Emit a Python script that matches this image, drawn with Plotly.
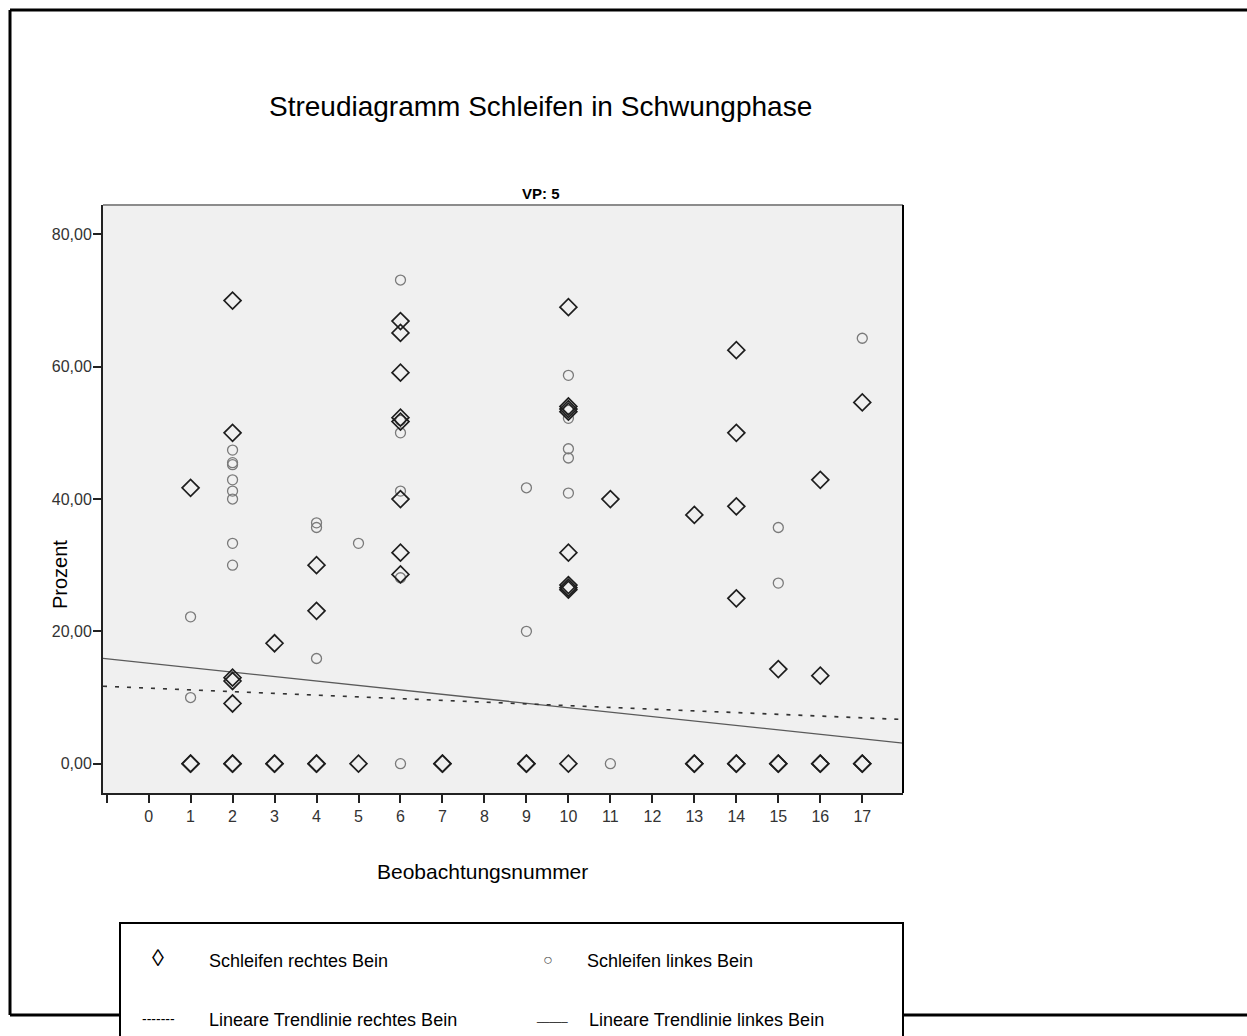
import plotly.graph_objects as go

# Beobachtungsnummer / Prozent – rechtes Bein (Rauten)
right_x = [1, 1, 1,
           2, 2, 2, 2, 2, 2, 2,
           3, 3, 3,
           4, 4, 4, 4,
           5,
           6, 6, 6, 6, 6, 6, 6, 6,
           7, 7,
           9, 9,
           10, 10, 10, 10, 10, 10, 10, 10, 10,
           11,
           13, 13, 13,
           14, 14, 14, 14, 14, 14,
           15, 15, 15,
           16, 16, 16, 16,
           17, 17, 17]
right_y = [41.7, 0, 0,
           70.0, 50.0, 13.0, 12.5, 9.1, 0, 0,
           18.2, 0, 0,
           30.0, 23.1, 0, 0,
           0,
           66.9, 65.1, 59.1, 52.3, 51.7, 40.0, 31.9, 28.6,
           0, 0,
           0, 0,
           69.0, 54.0, 53.6, 53.2, 31.9, 27.0, 26.6, 26.3, 0,
           40.0,
           37.6, 0, 0,
           62.5, 50.0, 38.9, 25.0, 0, 0,
           14.3, 0, 0,
           42.9, 13.3, 0, 0,
           54.6, 0, 0]

# Beobachtungsnummer / Prozent – linkes Bein (Kreise)
left_x = [1, 1,
          2, 2, 2, 2, 2, 2, 2, 2,
          4, 4, 4,
          5,
          6, 6, 6, 6, 6, 6,
          9, 9,
          10, 10, 10, 10, 10, 10,
          11,
          15, 15,
          17]
left_y = [22.2, 10.0,
          47.4, 45.5, 45.2, 42.9, 41.2, 40.0, 33.3, 30.0,
          36.4, 35.7, 15.9,
          33.3,
          73.1, 51.9, 50.0, 41.2, 28.1, 0,
          41.7, 20.0,
          58.7, 53.4, 52.2, 47.6, 46.2, 40.9,
          0,
          35.7, 27.3,
          64.3]

# Lineare Trendlinien: [Achsenabschnitt, Steigung]
trend_right = [11.42, -0.264]
trend_left = [15.18, -0.672]

x_range = [-1.086, 17.97]
y_range = [-4.43, 84.44]
x_tick_vals = list(range(-1, 18))
x_tick_text = [""] + [str(i) for i in range(0, 18)]
y_tick_vals = [0, 20, 40, 60, 80]

FONT = "Liberation Sans, Arial, sans-serif"
W, H = 1247, 1036
PL, PR, PT, PB = 103, 903, 205, 793  # plot area in pixels


def px(x):
    return (x - PL) / (PR - PL)


def py(y):
    return (PB - y) / (PB - PT)


def trend(coef):
    return [coef[0] + coef[1] * x for x in x_range]


fig = go.Figure()

fig.add_trace(go.Scatter(
    x=x_range, y=trend(trend_left), mode="lines",
    line=dict(color="#5a5a5a", width=1.3), hoverinfo="skip"))
fig.add_trace(go.Scatter(
    x=x_range, y=trend(trend_right), mode="lines",
    line=dict(color="#333333", width=1.6, dash="4px,8px"), hoverinfo="skip"))

fig.add_trace(go.Scatter(
    x=left_x, y=left_y, mode="markers", name="Schleifen linkes Bein",
    marker=dict(symbol="circle-open", size=10, color="#7a7a7a",
                line=dict(width=1.3, color="#7a7a7a"))))
fig.add_trace(go.Scatter(
    x=right_x, y=right_y, mode="markers", name="Schleifen rechtes Bein",
    marker=dict(symbol="diamond-open", size=13, color="#1e1e1e",
                line=dict(width=1.7, color="#1e1e1e"))))

shapes = []
# plot frame: top in grey, right in black
shapes.append(dict(type="line", xref="paper", yref="paper", x0=0, x1=1, y0=1, y1=1,
                   line=dict(color="#8c8c8c", width=2)))
shapes.append(dict(type="line", xref="paper", yref="paper", x0=1, x1=1, y0=0, y1=1,
                   line=dict(color="#000000", width=2)))
# outer frame
frame = dict(color="#000000", width=3)
shapes.append(dict(type="line", xref="paper", yref="paper",
                   x0=px(10), x1=px(10), y0=py(10), y1=py(1015), line=frame))
shapes.append(dict(type="line", xref="paper", yref="paper",
                   x0=px(10), x1=px(1260), y0=py(10), y1=py(10), line=frame))
shapes.append(dict(type="line", xref="paper", yref="paper",
                   x0=px(10), x1=px(120), y0=py(1015), y1=py(1015), line=frame))
shapes.append(dict(type="line", xref="paper", yref="paper",
                   x0=px(903), x1=px(1260), y0=py(1015), y1=py(1015), line=frame))
# legend box
shapes.append(dict(type="rect", xref="paper", yref="paper",
                   x0=px(120), x1=px(903), y0=py(923), y1=py(1050),
                   line=dict(color="#000000", width=2), fillcolor="rgba(0,0,0,0)"))

annotations = [
    dict(text="Streudiagramm Schleifen in Schwungphase", x=px(540), y=py(107),
         font=dict(family=FONT, size=28, color="#000000")),
    dict(text="<b>VP: 5</b>", x=px(541), y=py(193),
         font=dict(family=FONT, size=15, color="#000000")),
    dict(text="Prozent", x=px(60), y=py(575), textangle=-90,
         font=dict(family=FONT, size=20, color="#000000")),
    dict(text="Beobachtungsnummer", x=px(482), y=py(871),
         font=dict(family=FONT, size=21, color="#000000")),
    # legend entries
    dict(text="◊", x=px(158), y=py(957), font=dict(family=FONT, size=24, color="#000000")),
    dict(text="Schleifen rechtes Bein", x=px(207), y=py(961), xanchor="left",
         font=dict(family=FONT, size=18, color="#000000")),
    dict(text="○", x=px(548), y=py(959), font=dict(family=FONT, size=16, color="#555555")),
    dict(text="Schleifen linkes Bein", x=px(585), y=py(961), xanchor="left",
         font=dict(family=FONT, size=18, color="#000000")),
    dict(text="-------", x=px(158), y=py(1019), font=dict(family=FONT, size=14, color="#000000")),
    dict(text="Lineare Trendlinie rechtes Bein", x=px(207), y=py(1020), xanchor="left",
         font=dict(family=FONT, size=18, color="#000000")),
    dict(text="_____", x=px(552), y=py(1017), font=dict(family=FONT, size=11, color="#000000")),
    dict(text="Lineare Trendlinie linkes Bein", x=px(587), y=py(1020), xanchor="left",
         font=dict(family=FONT, size=18, color="#000000")),
]
for a in annotations:
    a.setdefault("xanchor", "center")
    a.update(xref="paper", yref="paper", yanchor="middle", showarrow=False)

fig.update_layout(
    width=W, height=H,
    margin=dict(l=PL, r=W - PR, t=PT, b=H - PB, pad=0),
    paper_bgcolor="#ffffff",
    plot_bgcolor="#f0f0f0",
    showlegend=False,
    separators=",.",
    font=dict(family=FONT, size=16, color="#333333"),
    shapes=shapes,
    annotations=annotations,
    xaxis=dict(range=x_range, tickmode="array", tickvals=x_tick_vals, ticktext=x_tick_text,
               showgrid=False, zeroline=False, showline=True, linecolor="#222222", linewidth=2,
               ticks="outside", ticklen=8, tickwidth=2, tickcolor="#222222",
               tickfont=dict(family=FONT, size=16, color="#333333")),
    yaxis=dict(range=y_range, tickmode="array", tickvals=y_tick_vals, tickformat=".2f",
               showgrid=False, zeroline=False, showline=True, linecolor="#222222", linewidth=2,
               ticks="outside", ticklen=8, tickwidth=2, tickcolor="#222222",
               ticklabelstandoff=-2,
               tickfont=dict(family=FONT, size=16, color="#333333")),
)

fig.write_html("out.html")
